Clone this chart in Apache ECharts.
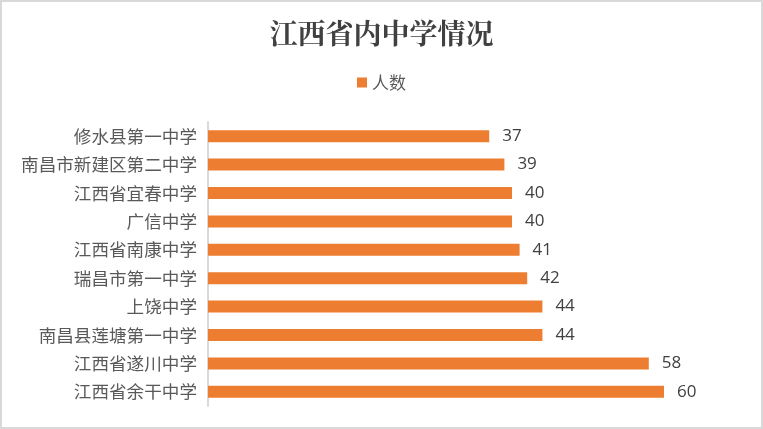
<!DOCTYPE html>
<html><head><meta charset="utf-8">
<script src="https://cdn.jsdelivr.net/npm/echarts@6/dist/echarts.min.js"></script>
<style>html,body{margin:0;padding:0;background:#fff}#c{width:763px;height:429px;box-sizing:border-box;border:2px solid #d9d9d9}</style>
</head><body><div id="c"></div>
<script>
const categories = ['修水县第一中学','南昌市新建区第二中学','江西省宜春中学','广信中学','江西省南康中学','瑞昌市第一中学','上饶中学','南昌县莲塘第一中学','江西省遂川中学','江西省余干中学'];
const values = [37,39,40,40,41,42,44,44,58,60];
const seriesName = '人数';
const chart = echarts.init(document.getElementById('c'));
chart.setOption({
  animation:false,
  title:{text:'江西省内中学情况',left:'center',top:12,textStyle:{fontFamily:'Noto Serif CJK SC, Noto Sans CJK SC',fontSize:28,fontWeight:'bold',color:'#404040'}},
  legend:{data:[seriesName],top:67,left:'center',itemWidth:10,itemHeight:10,icon:'rect',itemGap:8,textStyle:{fontFamily:'Noto Sans CJK SC',fontSize:17,color:'#595959'}},
  grid:{left:206,top:120,right:21,bottom:21,containLabel:false},
  xAxis:{type:'value',min:0,max:70,show:false},
  yAxis:{type:'category',data:categories,inverse:true,
    axisLine:{show:true,lineStyle:{color:'#d9d9d9',width:2}},axisTick:{show:false},
    axisLabel:{fontFamily:'Noto Sans CJK SC',fontSize:17.6,color:'#595959',margin:11}},
  series:[{name:seriesName,type:'bar',data:values,barWidth:12,itemStyle:{color:'#ed7d31'},
    label:{show:true,position:'right',distance:13,fontFamily:'Open Sans, Liberation Sans',fontSize:17,color:'#404040'}}]
});
</script></body></html>
